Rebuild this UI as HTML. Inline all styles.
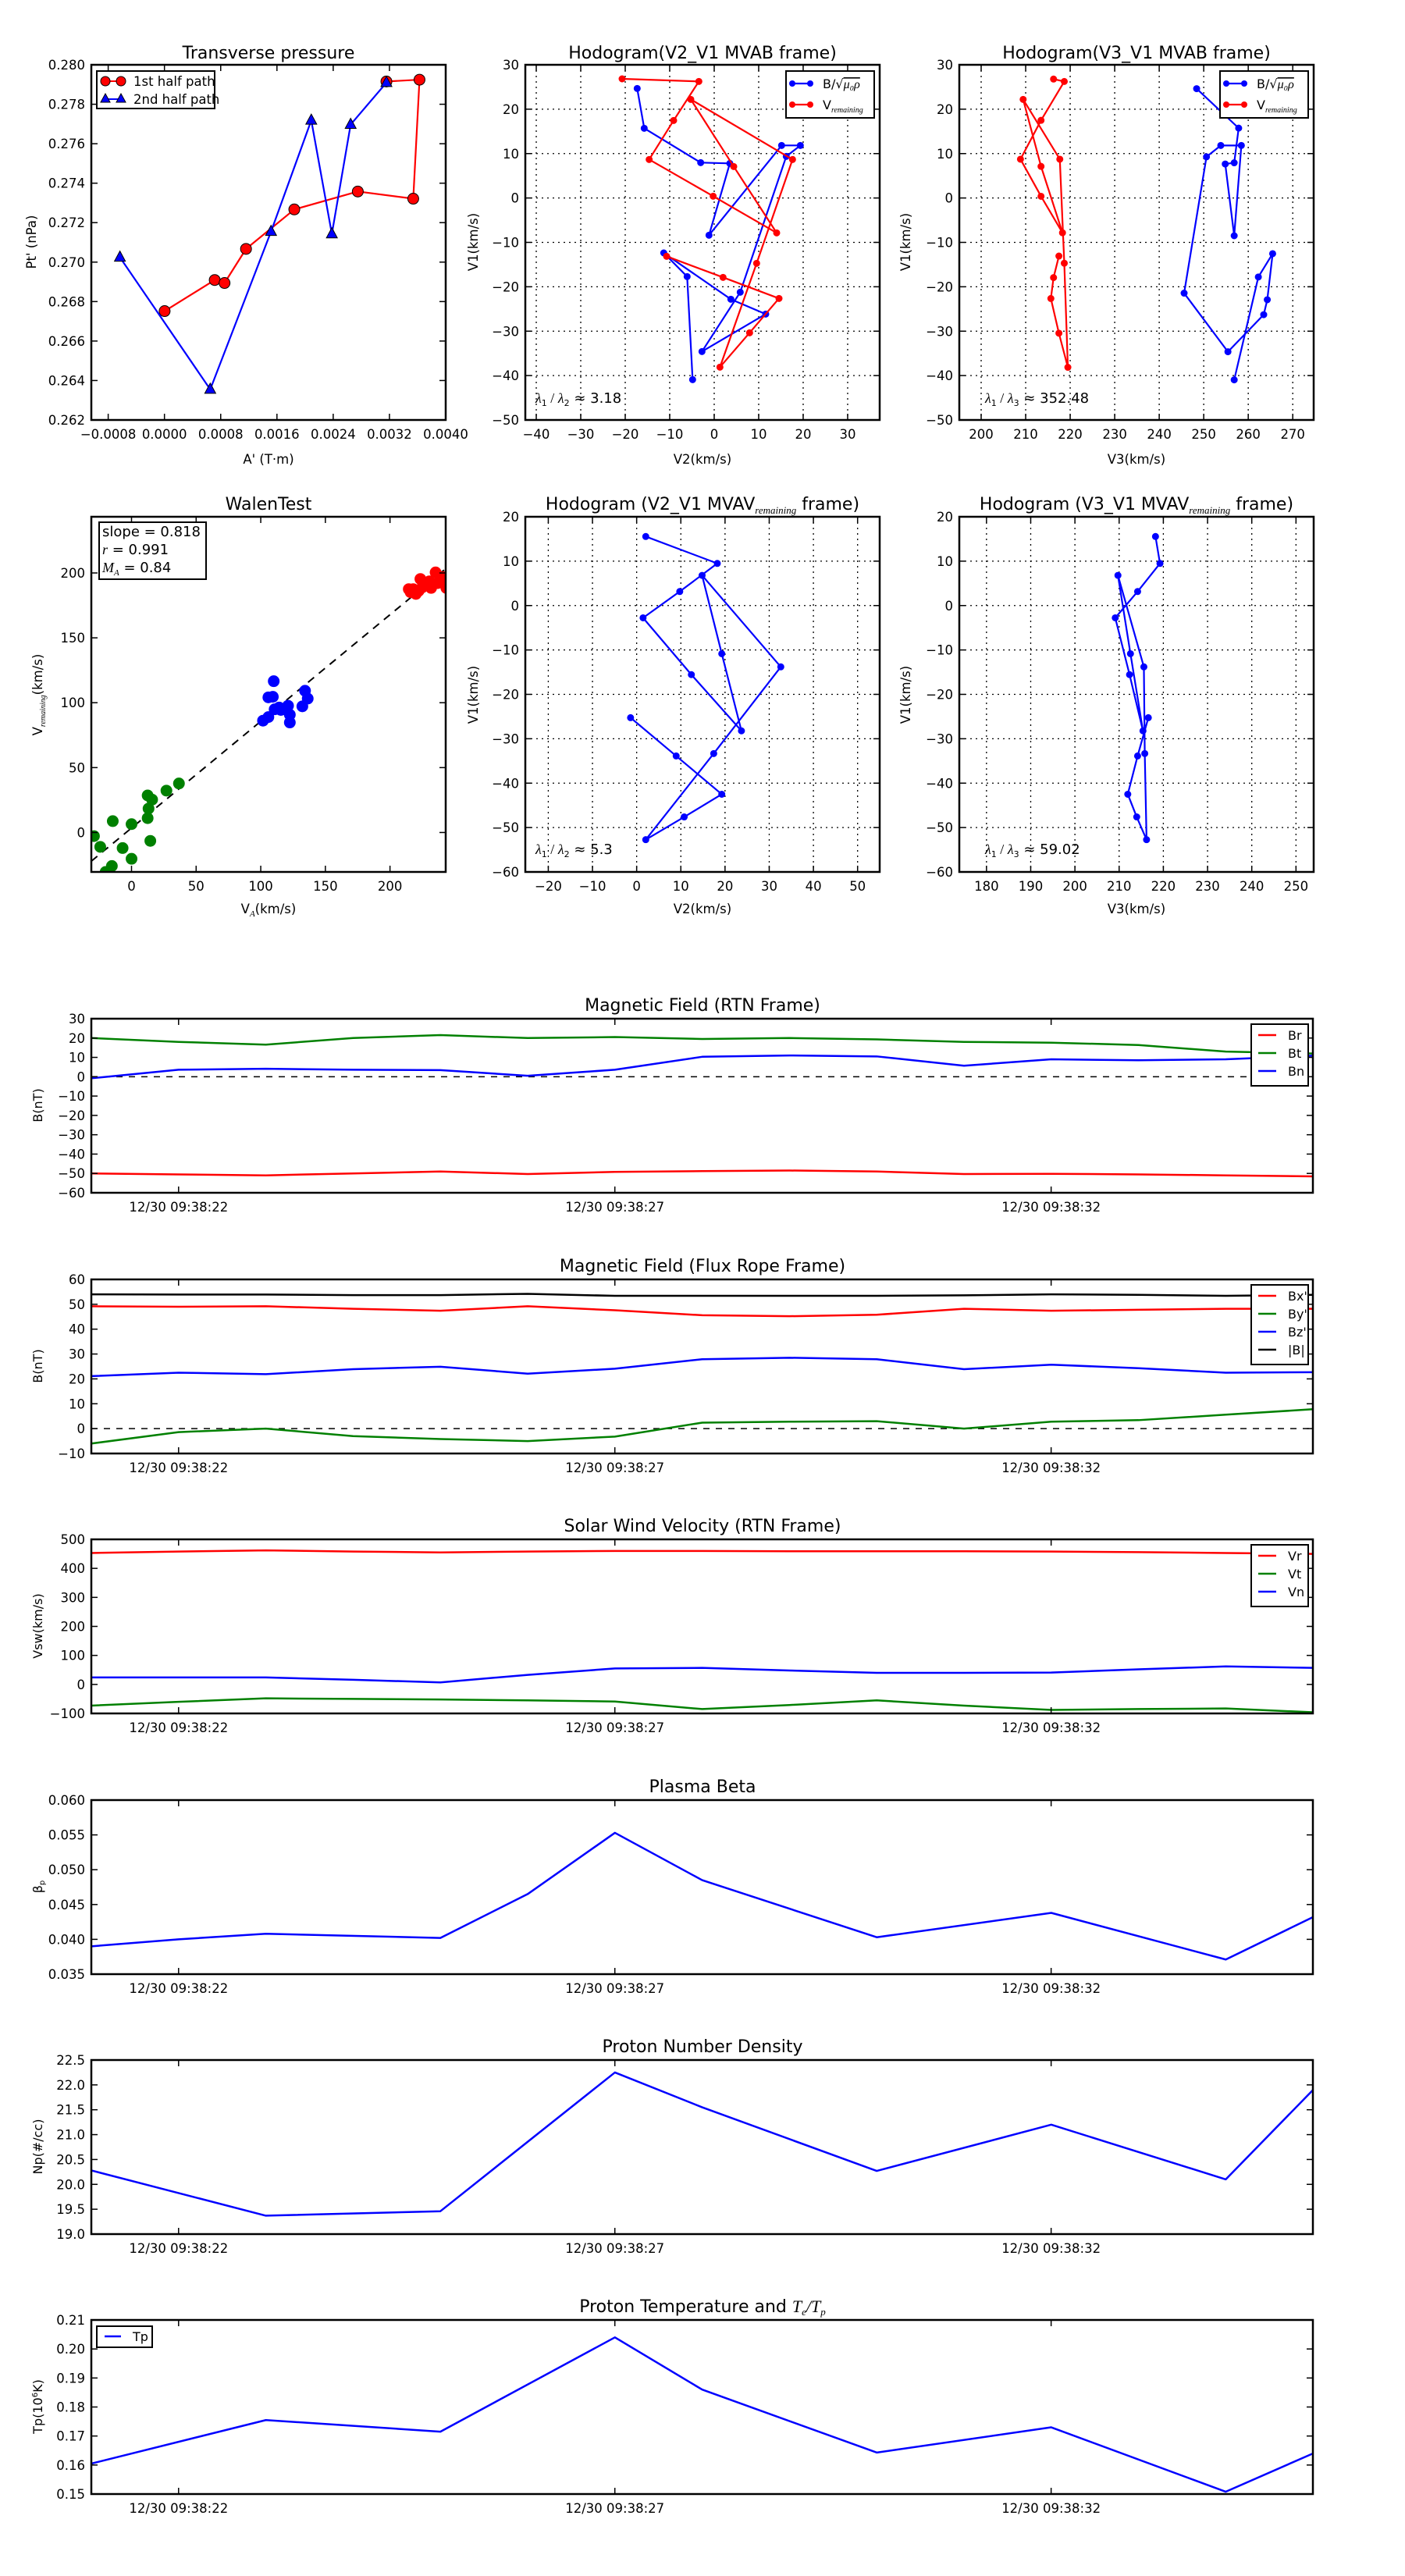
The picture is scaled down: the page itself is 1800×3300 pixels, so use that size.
<!DOCTYPE html>
<html><head><meta charset="utf-8">
<style>
html,body{margin:0;padding:0;background:#fff;}
#c{width:1800px;height:3300px;position:relative;}
svg{display:block;font-family:"DejaVu Sans","Liberation Sans",sans-serif;}
</style></head>
<body><div id="c"></div>
<script>
let s='';
const M='−';
function fmt(v,d){let t=Math.abs(v)<1e-12?(0).toFixed(d):v.toFixed(d);return t.replace('-',M);}
function txt(x,y,t,a,sz,extra){s+=`<text x="${x}" y="${y}" text-anchor="${a||'middle'}" font-size="${sz||16.5}" ${extra||''}>${t}</text>`;}
function axis(o){
 const {x0,y0,w,h,xlim,ylim}=o;
 const X=v=>x0+(v-xlim[0])/(xlim[1]-xlim[0])*w;
 const Y=v=>y0+h-(v-ylim[0])/(ylim[1]-ylim[0])*h;
 if(o.grid){
  o.xt.forEach(v=>{const x=X(v);s+=`<line x1="${x}" y1="${y0}" x2="${x}" y2="${y0+h}" stroke="#000" stroke-width="1.3" stroke-dasharray="2,5"/>`;});
  o.yt.forEach(v=>{const y=Y(v);s+=`<line x1="${x0}" y1="${y}" x2="${x0+w}" y2="${y}" stroke="#000" stroke-width="1.3" stroke-dasharray="2,5"/>`;});
 }
 o.X=X;o.Y=Y;return o;
}
function finish(o){
 const {x0,y0,w,h}=o;
 o.xt.forEach((v,i)=>{const x=o.xpos?o.xpos[i]:o.X(v);
  s+=`<line x1="${x}" y1="${y0+h}" x2="${x}" y2="${y0+h-8}" stroke="#000" stroke-width="1.5"/><line x1="${x}" y1="${y0}" x2="${x}" y2="${y0+8}" stroke="#000" stroke-width="1.5"/>`;
  txt(x,y0+h+24,o.xl?o.xl[i]:fmt(v,o.xd||0));});
 o.yt.forEach(v=>{const y=o.Y(v);
  s+=`<line x1="${x0}" y1="${y}" x2="${x0+8}" y2="${y}" stroke="#000" stroke-width="1.5"/><line x1="${x0+w}" y1="${y}" x2="${x0+w-8}" y2="${y}" stroke="#000" stroke-width="1.5"/>`;
  txt(x0-8,y+6,fmt(v,o.yd||0),'end');});
 s+=`<rect x="${x0}" y="${y0}" width="${w}" height="${h}" fill="none" stroke="#000" stroke-width="2.5"/>`;
}
function poly(pts,col,sw){s+=`<polyline points="${pts.map(p=>p.join(',')).join(' ')}" fill="none" stroke="${col}" stroke-width="${sw||2.2}" stroke-linejoin="round"/>`;}
function dots(pts,col,r){pts.forEach(p=>{s+=`<circle cx="${p[0]}" cy="${p[1]}" r="${r}" fill="${col}" stroke="${col}"/>`;});}
const fz=p=>[2.4+1.1457*p[0],0.2+0.766*p[1]];
const f7=p=>[673+p[0]/3,83+p[1]/3];
function rng(a,b,st){let r=[];for(let v=a;v<=b+1e-9;v+=st)r.push(Math.round(v/st)*st);return r;}
s+='<svg xmlns="http://www.w3.org/2000/svg" width="1800" height="3300">';
s+='<defs><clipPath id="cp1"><rect x="117" y="662" width="454" height="455"/></clipPath></defs>';

// ---- P1 Transverse pressure
let o=axis({x0:117,y0:83,w:454,h:455,xlim:[-0.00104,0.0040],ylim:[0.262,0.280],xt:rng(-0.0008,0.0040,0.0008),yt:rng(0.262,0.280,0.002),xd:4,yd:3});
let red=[[182,520],[238,468],[249,473],[273,416],[327,350],[398,320],[460,332],[467,133],[430,136]].map(fz);
let blue=[[132,430],[233,651],[301,387],[346,201],[369,391],[390,208],[430,138]].map(fz);
poly(red,'#f00');
red.forEach(p=>{s+=`<circle cx="${p[0]}" cy="${p[1]}" r="7" fill="#f00" stroke="#000" stroke-width="1"/>`;});
poly(blue,'#00f');
blue.forEach(p=>{s+=`<polygon points="${p[0]},${p[1]-8} ${p[0]-7},${p[1]+5} ${p[0]+7},${p[1]+5}" fill="#00f" stroke="#000" stroke-width="1"/>`;});
finish(o);
s+=`<rect x="124" y="91" width="151" height="48" fill="#fff" stroke="#000" stroke-width="2"/>`;
s+=`<line x1="135" y1="104" x2="155" y2="104" stroke="#f00" stroke-width="2"/><circle cx="135" cy="104" r="6" fill="#f00" stroke="#000"/><circle cx="155" cy="104" r="6" fill="#f00" stroke="#000"/>`;
s+=`<line x1="135" y1="127" x2="155" y2="127" stroke="#00f" stroke-width="2"/><polygon points="135,120 129,131 141,131" fill="#00f" stroke="#000"/><polygon points="155,120 149,131 161,131" fill="#00f" stroke="#000"/>`;
txt(171,110,'1st half path','start',16.5);txt(171,133,'2nd half path','start',16.5);
txt(344,75,'Transverse pressure','middle',22);
txt(344,594,"A' (T·m)",'middle',16.5);
txt(46,310,"Pt' (nPa)",'middle',16.5,'transform="rotate(-90 46 310)"');

// ---- P2
o=axis({x0:673,y0:83,w:454,h:455,xlim:[-42.46,37.2],ylim:[-50,30],xt:rng(-40,30,10),yt:rng(-50,30,10),grid:1});
blue=[[430,91],[457,244],[674,376],[786,379],[706,655],[985,310],[1057,310],[1003,352],[826,874],[679,1102],[924,958],[790,901],[532,723],[622,814],[643,1210]].map(f7);
red=[[372,54],[667,64],[570,214],[476,364],[722,505],[966,646],[801,391],[636,133],[1027,364],[889,763],[748,1162],[862,1030],[975,898],[760,817],[543,736]].map(f7);
poly(blue,'#00f');dots(blue,'#00f',4);poly(red,'#f00');dots(red,'#f00',4);
finish(o);
function hlegend(x){
 s+=`<rect x="${x}" y="91" width="113" height="60" fill="#fff" stroke="#000" stroke-width="2"/>`;
 s+=`<line x1="${x+8}" y1="107" x2="${x+31}" y2="107" stroke="#00f" stroke-width="2.2"/><circle cx="${x+8}" cy="107" r="4" fill="#00f"/><circle cx="${x+31}" cy="107" r="4" fill="#00f"/>`;
 s+=`<line x1="${x+8}" y1="134" x2="${x+31}" y2="134" stroke="#f00" stroke-width="2.2"/><circle cx="${x+8}" cy="134" r="4" fill="#f00"/><circle cx="${x+31}" cy="134" r="4" fill="#f00"/>`;
 txt(x+47,113,'B/√<tspan text-decoration="overline" font-style="italic" font-family="Liberation Serif,serif">μ₀ρ</tspan>','start',16);
 txt(x+47,140,'V<tspan font-size="10" font-style="italic" font-family="Liberation Serif,serif" dy="4">remaining</tspan>','start',16);
}
hlegend(1007);
txt(900,75,'Hodogram(V2_V1 MVAB frame)','middle',22);
txt(900,594,'V2(km/s)','middle',16.5);
txt(612,310,'V1(km/s)','middle',16.5,'transform="rotate(-90 612 310)"');
function lam(x,y,a,b,v){txt(x,y,`<tspan font-family="Liberation Serif,serif" font-style="italic">λ</tspan><tspan font-size="11" dy="4">${a}</tspan><tspan dy="-4" font-family="Liberation Serif,serif"> / </tspan><tspan font-family="Liberation Serif,serif" font-style="italic">λ</tspan><tspan font-size="11" dy="4">${b}</tspan><tspan dy="-4"> ≈ ${v}</tspan>`,'start',18);}
lam(686,516,1,2,'3.18');

// ---- P3
o=axis({x0:1229,y0:83,w:454,h:455,xlim:[195.09,274.7],ylim:[-50,30],xt:rng(200,270,10),yt:rng(-50,30,10),grid:1});
blue=[[1336,148],[1383,214],[1378,272],[1368,274],[1378,394],[1386,243],[1363,243],[1347,262],[1322,490],[1371,588],[1411,526],[1415,501],[1421,424],[1405,463],[1378,635]].map(fz);
red=[[1176,132],[1188,136],[1162,201],[1139,266],[1162,328],[1186,389],[1162,278],[1142,166],[1183,266],[1188,440],[1192,614],[1182,557],[1173,499],[1176,464],[1182,428]].map(fz);
poly(blue,'#00f');dots(blue,'#00f',4);poly(red,'#f00');dots(red,'#f00',4);
finish(o);
hlegend(1563);
txt(1456,75,'Hodogram(V3_V1 MVAB frame)','middle',22);
txt(1456,594,'V3(km/s)','middle',16.5);
txt(1166,310,'V1(km/s)','middle',16.5,'transform="rotate(-90 1166 310)"');
lam(1262,516,1,3,'352.48');

// ---- P4 Walen
o=axis({x0:117,y0:662,w:454,h:455,xlim:[-31.1,243.1],ylim:[-30.4,243.3],xt:rng(0,200,50),yt:rng(0,200,50)});
let dl=[[100,1440],[497,950]].map(fz);
s+=`<line x1="${dl[0][0]}" y1="${dl[0][1]}" x2="${dl[1][0]}" y2="${dl[1][1]}" stroke="#000" stroke-width="2" stroke-dasharray="10,8"/>`;
s+='<g clip-path="url(#cp1)">';
dots([[457,990],[460,985],[463,993],[468,968],[470,982],[475,978],[480,983],[485,957],[487,975],[490,970],[494,965],[497,983],[478,972],[466,988],[455,985]].map(fz),'#f00',7);
dots([[304,1139],[298,1166],[303,1165],[339,1155],[342,1168],[310,1183],[316,1186],[336,1181],[322,1195],[322,1208],[292,1205],[298,1199],[305,1186],[320,1180],[312,1187]].map(fz),'#00f',7);
dots([[103,1398],[110,1416],[124,1373],[135,1418],[145,1378],[145,1436],[123,1448],[163,1330],[168,1337],[164,1352],[163,1368],[166,1406],[184,1322],[198,1310],[116,1458]].map(fz),'#008000',7);
s+='</g>';
finish(o);
s+=`<rect x="127" y="669" width="137" height="73" fill="#fff" stroke="#000" stroke-width="2"/>`;
txt(131,687,'slope = 0.818','start',18);
txt(131,710,'<tspan font-family="Liberation Serif,serif" font-style="italic">r</tspan> = 0.991','start',18);
txt(131,733,'<tspan font-family="Liberation Serif,serif" font-style="italic">M<tspan font-size="11" dy="4">A</tspan></tspan><tspan dy="-4"> = 0.84</tspan>','start',18);
txt(344,653,'WalenTest','middle',22);
txt(344,1170,'V<tspan font-size="11" dy="4" font-style="italic" font-family="Liberation Serif,serif">A</tspan><tspan dy="-4">(km/s)</tspan>','middle',16.5);
txt(54,890,'V<tspan font-size="10" dy="4" font-style="italic" font-family="Liberation Serif,serif">remaining</tspan><tspan dy="-4">(km/s)</tspan>','middle',16.5,'transform="rotate(-90 54 890)"');

// ---- P5
o=axis({x0:673,y0:662,w:454,h:455,xlim:[-25.2,55.0],ylim:[-60,20],xt:rng(-20,50,10),yt:rng(-60,20,10),grid:1});
blue=[[720,897],[800,942],[758,989],[717,1033],[771,1128],[827,1222],[805,1093],[783,962],[871,1115],[796,1260],[720,1404],[763,1366],[805,1328],[754,1264],[703,1200]].map(fz);
poly(blue,'#00f');dots(blue,'#00f',4);finish(o);
txt(900,653,'Hodogram (V2_V1 MVAV<tspan font-size="13" dy="5" font-style="italic" font-family="Liberation Serif,serif">remaining</tspan><tspan dy="-5"> frame)</tspan>','middle',22);
txt(900,1170,'V2(km/s)','middle',16.5);
txt(612,890,'V1(km/s)','middle',16.5,'transform="rotate(-90 612 890)"');
lam(686,1094,1,2,'5.3');

// ---- P6
o=axis({x0:1229,y0:662,w:454,h:455,xlim:[173.85,254.0],ylim:[-60,20],xt:rng(180,250,10),yt:rng(-60,20,10),grid:1});
blue=[[1290,897],[1295,942],[1270,989],[1245,1033],[1261,1128],[1276,1222],[1262,1093],[1248,962],[1277,1115],[1278,1260],[1280,1404],[1269,1366],[1259,1328],[1270,1264],[1282,1200]].map(fz);
poly(blue,'#00f');dots(blue,'#00f',4);finish(o);
txt(1456,653,'Hodogram (V3_V1 MVAV<tspan font-size="13" dy="5" font-style="italic" font-family="Liberation Serif,serif">remaining</tspan><tspan dy="-5"> frame)</tspan>','middle',22);
txt(1456,1170,'V3(km/s)','middle',16.5);
txt(1166,890,'V1(km/s)','middle',16.5,'transform="rotate(-90 1166 890)"');
lam(1262,1094,1,3,'59.02');

// ---- Time series
const TX=i=>117+i*111.8;
function ts(top,title,ylim,st,yd,series,ylab,leg,zero){
 const o=axis({x0:117,y0:top,w:1565,h:223,xlim:[0,14],ylim:ylim,xt:[1,6,11],yt:rng(ylim[0],ylim[1],st),yd:yd,
  xl:['12/30 09:38:22','12/30 09:38:27','12/30 09:38:32']});
 if(zero)s+=`<line x1="117" y1="${o.Y(0)}" x2="1682" y2="${o.Y(0)}" stroke="#000" stroke-width="1.5" stroke-dasharray="8,8"/>`;
 series.forEach(sr=>{const pts=sr.d.map(p=>Array.isArray(p)?[TX(p[0]),o.Y(p[1])]:null);
  const pp=Array.isArray(sr.d[0])?pts:sr.d.map((v,i)=>[TX(i),o.Y(v)]);poly(pp,sr.c,2.5);});
 finish(o);
 txt(900,top-10,title,'middle',22);
 txt(54,top+111,ylab,'middle',16,`transform="rotate(-90 54 ${top+111})"`);
 if(leg){
  if(leg.left){
   s+=`<rect x="124" y="${top+8}" width="71" height="27" fill="#fff" stroke="#000" stroke-width="2"/>`;
   s+=`<line x1="134" y1="${top+21}" x2="155" y2="${top+21}" stroke="#00f" stroke-width="2.5"/>`;
   txt(170,top+27,'Tp','start',16);
  } else {
   const n=leg.length,hh=n*23+10;
   s+=`<rect x="1603" y="${top+7}" width="73" height="${hh}" fill="#fff" stroke="#000" stroke-width="2"/>`;
   leg.forEach((l,i)=>{const y=top+21+i*23;s+=`<line x1="1612" y1="${y}" x2="1635" y2="${y}" stroke="${l[1]}" stroke-width="2.5"/>`;txt(1650,y+6,l[0],'start',16);});
  }
 }
}
ts(1305,'Magnetic Field (RTN Frame)',[-60,30],10,0,[
 {c:'#f00',d:[-50,-50.5,-51,-50,-49,-50.3,-49.2,-48.8,-48.5,-49,-50.3,-50.2,-50.5,-51,-51.5]},
 {c:'#008000',d:[20,18,16.6,20,21.5,20,20.5,19.5,20,19.3,18,17.6,16.4,13,12]},
 {c:'#00f',d:[-0.8,3.6,4.1,3.6,3.4,0.5,3.6,10.3,11,10.5,5.7,9,8.5,9,10.9]}],
 'B(nT)',[['Br','#f00'],['Bt','#008000'],['Bn','#00f']],1);
ts(1639,'Magnetic Field (Flux Rope Frame)',[-10,60],10,0,[
 {c:'#000',d:[54,53.9,53.9,53.7,53.7,54.2,53.4,53.4,53.4,53.4,53.6,54,53.8,53.4,53.8]},
 {c:'#f00',d:[49.2,49,49.2,48.2,47.4,49.2,47.6,45.6,45.2,45.8,48.2,47.4,47.8,48.2,48.2]},
 {c:'#00f',d:[21.1,22.5,21.9,23.9,24.9,22.1,24.1,27.9,28.5,27.9,23.9,25.7,24.3,22.5,22.7]},
 {c:'#008000',d:[-6,-1.4,0,-3,-4.2,-5,-3.2,2.4,2.8,3,0,2.8,3.4,5.6,7.8]}],
 'B(nT)',[["Bx'",'#f00'],["By'",'#008000'],["Bz'",'#00f'],['|B|','#000']],1);
ts(1972,'Solar Wind Velocity (RTN Frame)',[-100,500],100,0,[
 {c:'#f00',d:[453,458,462,458,455,458,460,460,459,459,459,458,456,453,450]},
 {c:'#008000',d:[-73,-60,-48,-50,-52,-55,-59,-85,-71,-55,-73,-88,-85,-83,-96]},
 {c:'#00f',d:[24,24,24,16,7,33,55,57,48,40,40,41,52,62,57]}],
 'Vsw(km/s)',[['Vr','#f00'],['Vt','#008000'],['Vn','#00f']],0);
ts(2306,'Plasma Beta',[0.035,0.060],0.005,3,[
 {c:'#00f',d:[[0,0.0390],[1,0.0400],[2,0.0408],[4,0.0402],[5,0.0465],[6,0.0553],[7,0.0485],[9,0.0403],[11,0.0438],[13,0.0371],[14,0.0432]]}],
 'β<tspan font-size="10" dy="3">p</tspan>',null,0);
ts(2639,'Proton Number Density',[19,22.5],0.5,1,[
 {c:'#00f',d:[[0,20.28],[2,19.37],[4,19.46],[6,22.25],[7,21.55],[9,20.27],[11,21.2],[13,20.1],[14,21.9]]}],
 'Np(#/cc)',null,0);
ts(2972,'Proton Temperature and <tspan font-style="italic" font-family="Liberation Serif,serif">T<tspan font-size="13" dy="4">e</tspan><tspan dy="-4">/T</tspan><tspan font-size="13" dy="4">p</tspan></tspan>',[0.15,0.21],0.01,2,[
 {c:'#00f',d:[[0,0.1605],[2,0.1755],[4,0.1715],[6,0.204],[7,0.186],[9,0.1643],[11,0.173],[13,0.1508],[14,0.164]]}],
 'Tp(10<tspan font-size="10" dy="-6">6</tspan><tspan dy="6">K)</tspan>',{left:1},0);
s+='</svg>';
document.getElementById('c').innerHTML=s;
</script>
</body></html>
